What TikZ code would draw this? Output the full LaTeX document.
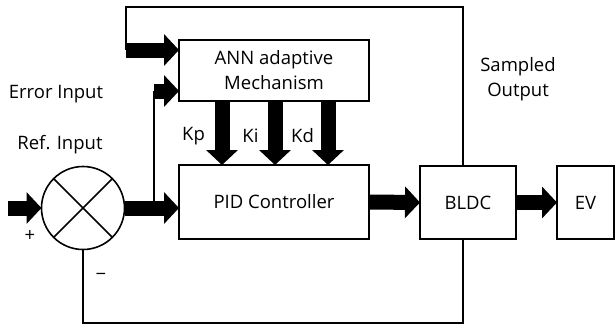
\documentclass[tikz,border=0pt]{standalone}
\usepackage{fontspec}
\setmainfont{Open Sans}
\usetikzlibrary{arrows.meta}
\tikzset{
  block/.style={draw, line width=1.6pt, inner sep=0pt, outer sep=0pt, align=center, font=\fontsize{18.5}{25}\selectfont},
  thin/.style={line width=1.6pt},
  fat/.style={line width=15pt, -{Triangle[length=15pt,width=31pt]}},
  lbl/.style={font=\fontsize{18.5}{25}\selectfont, align=center, inner sep=0pt},
}
\begin{document}
\begin{tikzpicture}[x=1pt,y=-1pt]
\useasboundingbox (0,0) rectangle (615,325);
% blocks
\node[block, minimum width=190pt, minimum height=61pt] (ann) at (274,70.5) {ANN adaptive\\Mechanism};
\node[block, minimum width=190pt, minimum height=74pt] (pid) at (274,202) {PID Controller};
\node[block, minimum width=96pt, minimum height=73pt] (bldc) at (468,202.5) {BLDC};
\node[block, minimum width=57pt, minimum height=73pt] (ev) at (585.5,202.5) {EV};
\node[draw, line width=1.6pt, circle, minimum size=83pt, inner sep=0pt, outer sep=0pt] (sum) at (83,208) {};
\draw[line width=1.6pt] (sum.north west) -- (sum.south east) (sum.north east) -- (sum.south west);
% labels
\node[lbl] (err) at (56,94) {Error Input};
\node[lbl] (ref) at (60,145) {Ref. Input};
\node[lbl] (samp) at (518,79) {Sampled\\Output};
\node[lbl] (plus) at (30,236) {+};
\node[lbl] (minus) at (101,277) {−};
\node[lbl] (kp) at (193.5,136) {Kp};
\node[lbl] (ki) at (250.5,136) {Ki};
\node[lbl] (kd) at (302.5,136) {Kd};
% points of the loops
\coordinate (in) at (8,208);
\coordinate (tr) at (463,7);
\coordinate (tl) at (126,7);
\coordinate (fbl) at (83,323);
\coordinate (fbr) at (463,323);
\coordinate (tap) at (154,208);
% input and forward path
\draw[fat] (in) -- (sum.west);
\draw[fat] (sum.east) -- (sum.east -| pid.west);
\draw[fat] (pid.east) -- (bldc.west);
\draw[fat] (bldc.east) -- (ev.west);
% gains
\draw[fat] (ann.south -| 222,0) -- (pid.north -| 222,0);
\draw[fat] (ann.south -| 275,0) -- (pid.north -| 275,0);
\draw[fat] (ann.south -| 328,0) -- (pid.north -| 328,0);
% sampled output to the ANN
\draw[thin] (bldc.north -| tr) -- (tr) -- (tl) -- (tl |- 0,50);
\draw[fat] (tl |- 0,50) -- (ann.west |- 0,50);
% error input to the ANN
\draw[thin] (tap) -- (tap |- 0,91);
\draw[fat] (tap |- 0,91) -- (ann.west |- 0,91);
% feedback
\draw[thin] (sum.south) -- (fbl) -- (fbr) -- (bldc.south -| fbr);
\end{tikzpicture}
\end{document}
